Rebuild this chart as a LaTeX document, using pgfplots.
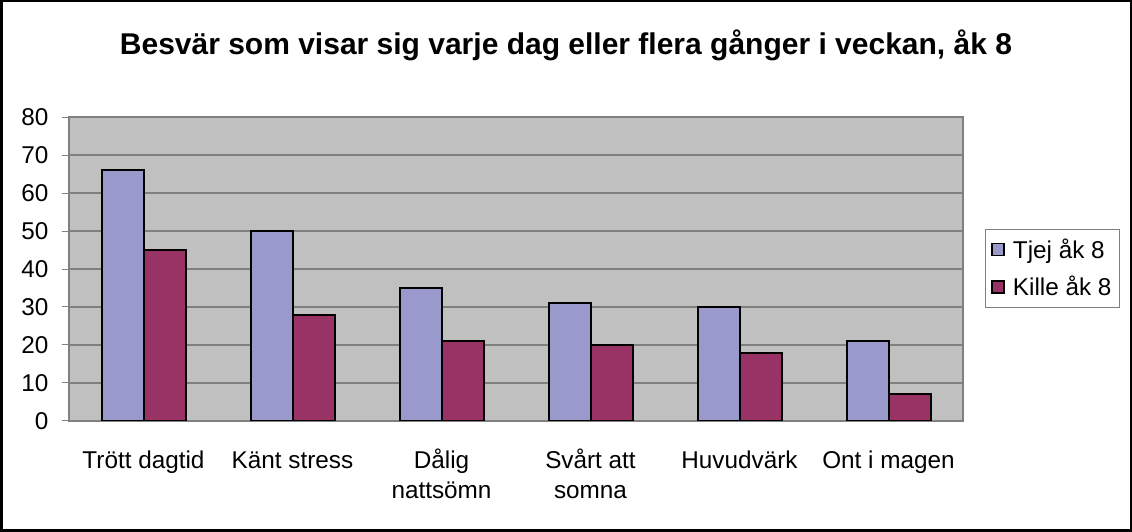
\documentclass[border=0pt]{standalone}
\usepackage{pgfplots}
\pgfplotsset{compat=1.18}
\usepackage{fontspec}
\setmainfont{Liberation Sans}
\definecolor{tjej}{RGB}{153,153,204}
\definecolor{kille}{RGB}{153,51,102}
\definecolor{plotbg}{RGB}{192,192,192}
\definecolor{gridc}{RGB}{128,128,128}
\begin{document}
\begin{tikzpicture}[x=1pt,y=1pt]
\path[use as bounding box] (0,0) rectangle (1132,532);
\fill[white] (0,0) rectangle (1132,532);
\node[font=\fontsize{30}{36}\selectfont\bfseries] at (566,487) {Besvär som visar sig varje dag eller flera gånger i veckan, åk 8};
\begin{axis}[
  at={(69pt,111pt)}, anchor=south west,
  scale only axis, width=894pt, height=304pt,
  ybar=0pt, bar width=42pt,
  xmin=-0.5, xmax=5.5, ymin=0, ymax=80,
  ytick={0,10,...,80},
  xtick={0,...,5},
  xticklabels={\strut Trött dagtid, \strut Känt stress, \strut Dålig\\\strut nattsömn, \strut Svårt att\\\strut somna, \strut Huvudvärk, \strut Ont i magen},
  /pgf/number format/assume math mode=true,
  tick label style={font=\fontsize{24.3}{30}\selectfont},
  xticklabel style={align=center, yshift=-16pt},
  yticklabel style={xshift=-10pt},
  tick align=outside, tick pos=left,
  major tick length=7pt,
  xtick style={draw=none},
  ytick style={draw=gridc, line width=1pt},
  extra x ticks={-0.5,0.5,1.5,2.5,3.5,4.5,5.5},
  extra x tick labels={},
  extra x tick style={grid=none, tick style={draw=gridc, line width=1pt}},
  axis background/.style={fill=plotbg},
  axis line style={draw=gridc, line width=1.2pt},
  ymajorgrids, grid style={draw=gridc, line width=1.2pt},
  legend style={at={(1.0246,0.6316)}, anchor=north west, draw=gridc, fill=white,
    font=\fontsize{24.3}{28}\selectfont, row sep=12pt, inner xsep=6pt, inner ysep=8pt},
  legend cell align=left,
  legend image code/.code={\draw[#1, line width=1.5pt] (0pt,-6pt) rectangle (12pt,6pt); \path[draw=none, fill=none] (0pt,0pt) -- (19pt,0pt);},
]
\addplot[fill=tjej, draw=black, line width=2pt] coordinates {(0,66) (1,50) (2,35) (3,31) (4,30) (5,21)};
\addplot[fill=kille, draw=black, line width=2pt] coordinates {(0,45) (1,28) (2,21) (3,20) (4,18) (5,7)};
\legend{Tjej åk 8, Kille åk 8}
\end{axis}
\draw[line width=2.5pt] (1.25,1.25) rectangle (1130.75,530.75);
\end{tikzpicture}
\end{document}
